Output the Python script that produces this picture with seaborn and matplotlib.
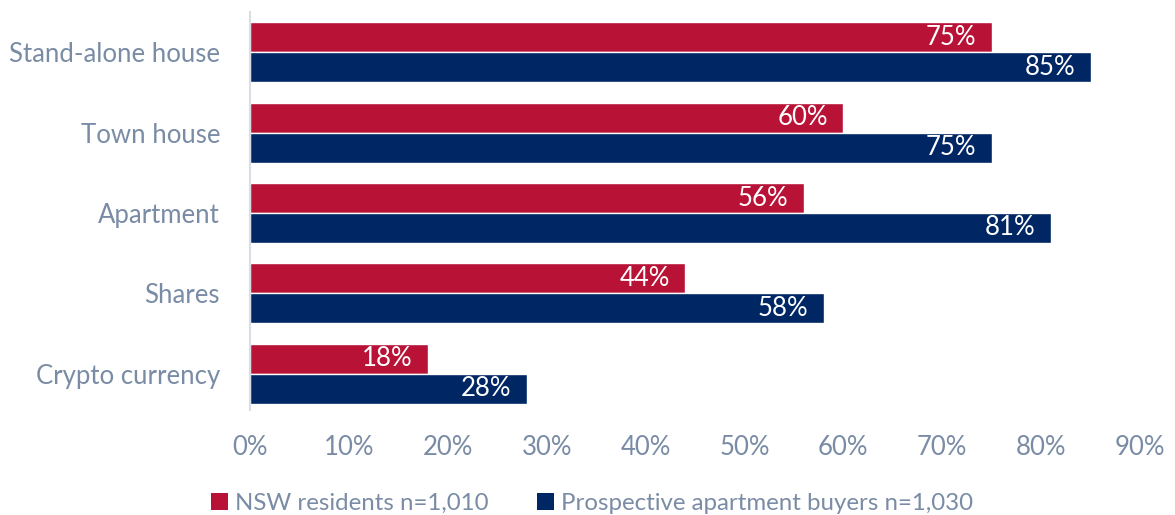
import matplotlib
matplotlib.use("Agg")
import matplotlib.pyplot as plt
from matplotlib.patches import Patch
import seaborn as sns
import pandas as pd

categories = ["Stand-alone house", "Town house", "Apartment", "Shares", "Crypto currency"]
nsw_residents = [75, 60, 56, 44, 18]
prospective_buyers = [85, 75, 81, 58, 28]
series_names = ["NSW residents n=1,010", "Prospective apartment buyers n=1,030"]
x_ticks = [0, 10, 20, 30, 40, 50, 60, 70, 80, 90]

RED = "#B81237"
NAVY = "#002664"
TEXT = "#7A8CA5"

df = pd.DataFrame({
    "category": categories * 2,
    "value": nsw_residents + prospective_buyers,
    "series": [series_names[0]] * len(categories) + [series_names[1]] * len(categories),
})

sns.set_theme(style="white")
plt.rcParams["font.family"] = ["Lato", "DejaVu Sans"]

fig = plt.figure(figsize=(11.75, 5.15), dpi=100)
ax = fig.add_axes([250 / 1175, 1 - 410 / 515, (1140 - 250) / 1175, (410 - 12) / 515])

sns.barplot(
    data=df, y="category", x="value", hue="series", orient="h",
    palette=[RED, NAVY], width=0.745, dodge=True, gap=0,
    saturation=1, legend=False, ax=ax,
)

for container in ax.containers:
    for bar in container:
        w = bar.get_width()
        y = bar.get_y() + bar.get_height() / 2
        ax.annotate(f"{w:.0f}%", xy=(w, y), xytext=(-11, 0), textcoords="offset points",
                    ha="right", va="center", color="white", fontsize=18.5)

ax.set_xlim(0, 90)
ax.set_ylim(4.45, -0.5)
ax.set_xticks(x_ticks)
ax.set_xticklabels([f"{t}%" for t in x_ticks])
ax.set_xlabel("")
ax.set_ylabel("")
ax.tick_params(axis="x", length=0, pad=18, labelsize=18.5, labelcolor=TEXT)
ax.tick_params(axis="y", length=0, pad=21.5, labelsize=18.5, labelcolor=TEXT)

for s in ["top", "right", "bottom"]:
    ax.spines[s].set_visible(False)
ax.spines["left"].set_color("#D9DEE5")
ax.spines["left"].set_linewidth(1.5)

handles = [Patch(facecolor=RED, edgecolor="none"), Patch(facecolor=NAVY, edgecolor="none")]
fig.legend(handles, series_names, loc="center", bbox_to_anchor=(592 / 1175, 1 - 503 / 515),
           ncol=2, frameon=False, fontsize=17.3, labelcolor=TEXT,
           handlelength=0.7, handleheight=0.7, handletextpad=0.3, columnspacing=2.0)

fig.savefig("out.png", dpi=100)
